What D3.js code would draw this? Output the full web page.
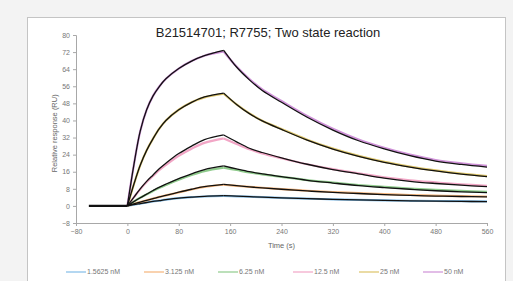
<!DOCTYPE html>
<html>
<head>
<meta charset="utf-8">
<script src="https://cdn.jsdelivr.net/npm/d3@7"></script>
<style>
  body { margin: 0; background: #f3f3f3; }
  svg { display: block; font-family: "Liberation Sans", Arial, sans-serif; }
</style>
</head>
<body>
<div id="chart"></div>
<script>
// Time points (s)
var baseTimes = [-60, 0];
var assocTimes = [0, 10, 20, 30, 40, 50, 60, 80, 100, 120, 150];
var dissocTimes = [150, 170, 190, 210, 240, 280, 320, 360, 400, 440, 480, 520, 560];

var concLabels = ["1.5625 nM", "3.125 nM", "6.25 nM", "12.5 nM", "25 nM", "50 nM"];
var colors = ["#82bde8", "#f6b57a", "#8fcb8c", "#f2a6c6", "#dcc468", "#cf92d8"];

// Fitted curves (black), association phase
var fitAssoc = [
  [0, 0.6, 1.1, 1.6, 2.1, 2.5, 2.9, 3.6, 4.1, 4.5, 4.8],
  [0, 1, 1.8, 2.6, 3.4, 4.2, 4.9, 6.4, 7.8, 9, 10.1],
  [0, 2, 3.8, 5.5, 7.2, 8.8, 10.2, 12.8, 15, 17, 18.7],
  [0, 4, 8, 11.5, 14.5, 17.5, 20, 24.5, 28, 31, 33.2],
  [0, 10, 19, 26, 31.5, 36.3, 40, 45, 48.5, 51, 52.8],
  [0, 19, 35, 45, 51.5, 56, 59.5, 64.3, 67.8, 70.3, 72.8]
];
// Fitted curves (black), dissociation phase
var fitDissoc = [
  [4.8, 4.6, 4.3, 4.1, 3.8, 3.4, 3.1, 2.8, 2.6, 2.4, 2.2, 2.1, 2.0],
  [10.1, 9.5, 8.9, 8.4, 7.8, 7, 6.3, 5.8, 5.3, 4.9, 4.6, 4.4, 4.2],
  [18.7, 17.3, 16, 15, 13.7, 12, 10.7, 9.5, 8.6, 7.8, 7.1, 6.6, 6.2],
  [33.2, 30, 27, 25, 22.5, 19.5, 17, 15, 13, 11.5, 10.5, 9.7, 9.0],
  [52.8, 47.5, 43.2, 39.8, 35.8, 30.8, 26.6, 23.2, 20.4, 18.2, 16.4, 14.9, 13.7],
  [72.8, 65, 59, 54, 48.5, 41.5, 35.5, 30.5, 26.7, 23.5, 21, 19.4, 18.2]
];
// Measured responses (coloured)
var dataAssoc = [
  [0, 0.6, 1.1, 1.6, 2.1, 2.5, 2.9, 3.6, 4.1, 4.4, 4.7],
  [0, 1, 1.8, 2.6, 3.4, 4.2, 4.9, 6.3, 7.7, 8.9, 9.9],
  [0, 2, 3.8, 5.4, 7, 8.5, 9.8, 12.3, 14.5, 16.3, 17.9],
  [0, 4, 7.8, 11.2, 14, 16.8, 19.2, 23.5, 26.8, 29.5, 31.6],
  [0, 10, 19, 26, 31.5, 36.3, 40, 45, 48.5, 50.8, 52.5],
  [0, 19, 35, 45, 51.5, 56, 59.5, 64.3, 67.8, 70.3, 72.3]
];
var dataDissoc = [
  [4.7, 4.5, 4.3, 4.1, 3.8, 3.4, 3.1, 2.8, 2.6, 2.4, 2.3, 2.2, 2.1],
  [9.9, 9.4, 8.9, 8.5, 7.9, 7.1, 6.5, 6, 5.5, 5.1, 4.8, 4.6, 4.4],
  [17.9, 16.8, 15.7, 14.8, 13.6, 12.1, 10.9, 9.8, 8.9, 8.1, 7.5, 7.0, 6.6],
  [31.6, 29, 26.5, 24.6, 22.3, 19.5, 17.2, 15.2, 13.4, 12, 11, 10.1, 9.4],
  [52.5, 47.5, 43.3, 39.9, 36, 31, 26.8, 23.4, 20.6, 18.4, 16.6, 15.1, 13.9],
  [72.3, 65.2, 59.4, 54.5, 49.1, 42.1, 36.1, 31.1, 27.2, 24, 21.5, 19.9, 18.7]
];

var yTicks = [-8, 0, 8, 16, 24, 32, 40, 48, 56, 64, 72, 80];
var xTicks = [-80, 0, 80, 160, 240, 320, 400, 480, 560];

var W = 513, H = 281;
var svg = d3.select("#chart").append("svg")
    .attr("width", W)
    .attr("height", H);

// white panel with grey border
svg.append("rect")
    .attr("x", 27.5).attr("y", 17.5)
    .attr("width", 478).attr("height", 300)
    .attr("fill", "#fff")
    .attr("stroke", "#c4c4c4");

var x = d3.scaleLinear().domain([-80, 560]).range([76, 487]);
var y = d3.scaleLinear().domain([-8, 80]).range([223, 35]);

// axes
var xAxis = svg.append("g")
    .attr("transform", "translate(0," + y(-8) + ")")
    .call(d3.axisBottom(x).tickValues(xTicks).tickSize(3).tickPadding(3));
var yAxis = svg.append("g")
    .attr("transform", "translate(" + x(-80) + ",0)")
    .call(d3.axisLeft(y).tickValues(yTicks).tickSize(3).tickPadding(3));

[xAxis, yAxis].forEach(function(a) {
    a.selectAll("path, line").attr("stroke", "#a8a8a8");
    a.selectAll("text").attr("fill", "#777").style("font-size", "7px");
});

var line = d3.line()
    .x(function(d) { return x(d[0]); })
    .y(function(d) { return y(d[1]); })
    .curve(d3.curveCatmullRom.alpha(0.5));

function pts(times, vals) {
    return times.map(function(t, i) { return [t, vals[i]]; });
}

// measured data (coloured)
concLabels.forEach(function(c, i) {
    [pts(assocTimes, dataAssoc[i]), pts(dissocTimes, dataDissoc[i])].forEach(function(p) {
        svg.append("path")
            .attr("d", line(p))
            .attr("fill", "none")
            .attr("stroke", colors[i])
            .attr("stroke-width", 2.2);
    });
});

// fitted curves (black)
concLabels.forEach(function(c, i) {
    [pts(assocTimes, fitAssoc[i]), pts(dissocTimes, fitDissoc[i])].forEach(function(p) {
        svg.append("path")
            .attr("d", line(p))
            .attr("fill", "none")
            .attr("stroke", "#111")
            .attr("stroke-width", 1.3);
    });
});

// baseline before injection
svg.append("path")
    .attr("d", line(pts(baseTimes, [0, 0])))
    .attr("fill", "none")
    .attr("stroke", "#111")
    .attr("stroke-width", 2.2);

// title
svg.append("text")
    .attr("x", 268).attr("y", 37)
    .attr("text-anchor", "middle")
    .style("font-size", "13px")
    .attr("fill", "#222")
    .text("B21514701; R7755; Two state reaction");

// axis titles
svg.append("text")
    .attr("x", x(240)).attr("y", 248)
    .attr("text-anchor", "middle")
    .style("font-size", "7.5px")
    .attr("fill", "#666")
    .text("Time (s)");

svg.append("text")
    .attr("transform", "translate(57," + y(34) + ") rotate(-90)")
    .attr("text-anchor", "middle")
    .style("font-size", "7.5px")
    .attr("fill", "#666")
    .text("Relative response (RU)");

// legend
var legendX = [66, 144, 218, 293, 359, 423];
var legend = svg.append("g").selectAll("g")
    .data(concLabels)
    .enter().append("g")
    .attr("transform", function(d, i) { return "translate(" + legendX[i] + ",272)"; });

legend.append("line")
    .attr("x1", 0).attr("x2", 20)
    .attr("stroke", function(d, i) { return colors[i]; })
    .attr("stroke-width", 1.2);

legend.append("text")
    .attr("x", 21)
    .attr("dy", "0.35em")
    .style("font-size", "7px")
    .attr("fill", "#777")
    .text(function(d) { return d; });
</script>
</body>
</html>
